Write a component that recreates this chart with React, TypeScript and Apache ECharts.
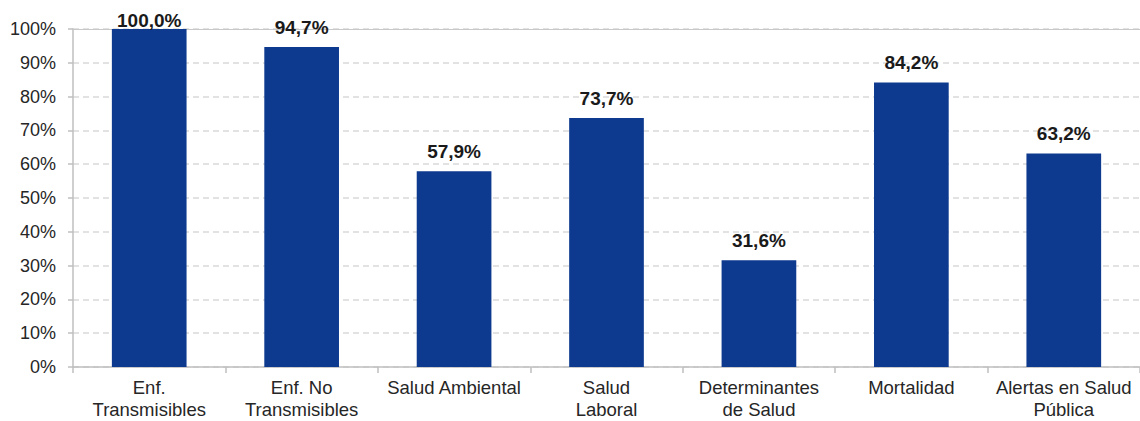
import React, { useEffect, useRef } from "react";
import * as echarts from "echarts";

const categories = [
  "Enf.\nTransmisibles",
  "Enf. No\nTransmisibles",
  "Salud Ambiental",
  "Salud\nLaboral",
  "Determinantes\nde Salud",
  "Mortalidad",
  "Alertas en Salud\nPública",
];
const values = [100.0, 94.7, 57.9, 73.7, 31.6, 84.2, 63.2];
const yTicks = [0, 10, 20, 30, 40, 50, 60, 70, 80, 90, 100];

const FONT = "'Liberation Sans', Arial, sans-serif";

export default function App() {
  const ref = useRef<HTMLDivElement>(null);
  useEffect(() => {
    if (!ref.current) return;
    const chart = echarts.init(ref.current, undefined, { renderer: "svg" });
    const yMax = yTicks[yTicks.length - 1];
    chart.setOption({
      animation: false,
      grid: {
        left: 73,
        right: 0,
        top: 29,
        bottom: 54,
        containLabel: false,
        outerBoundsMode: "none",
      },
      xAxis: [
        {
          type: "category",
          data: categories,
          axisLine: { show: true, lineStyle: { color: "#bfbfbf", width: 1.5 } },
          axisTick: { show: true, alignWithLabel: false, length: 6, lineStyle: { color: "#bfbfbf", width: 1.5 } },
          axisLabel: {
            color: "#262626",
            fontFamily: FONT,
            fontSize: 18.5,
            lineHeight: 21.5,
            margin: 10,
            interval: 0,
          },
        },
        {
          type: "category",
          data: categories,
          position: "top",
          axisLine: { show: true, lineStyle: { color: "#c8c8c8", width: 1 } },
          axisTick: { show: false },
          axisLabel: { show: false },
        },
      ],
      yAxis: {
        type: "value",
        min: yTicks[0],
        max: yMax,
        interval: 10,
        axisLine: { show: true, lineStyle: { color: "#bfbfbf", width: 1.5 } },
        axisTick: { show: true, length: 5, lineStyle: { color: "#bfbfbf", width: 1.5 } },
        axisLabel: {
          color: "#262626",
          fontFamily: FONT,
          fontSize: 18,
          margin: 17,
          formatter: (v: number) => `${v}%`,
        },
        splitLine: { show: true, lineStyle: { color: "#d9d9d9", type: [6, 4], width: 1.5 } },
      },
      series: [
        {
          type: "bar",
          data: values.map((v) => (v >= yMax ? { value: v, label: { distance: -1 } } : v)),
          barWidth: "49%",
          itemStyle: { color: "#0d3a8f" },
          label: {
            show: true,
            position: "top",
            distance: 10,
            color: "#1a1a1a",
            fontFamily: FONT,
            fontWeight: "bold",
            fontSize: 19,
            formatter: (p: any) => `${p.value.toFixed(1).replace(".", ",")}%`,
          },
        },
      ],
    });
    return () => chart.dispose();
  }, []);
  return (
    <div
      ref={ref}
      style={{ position: "fixed", left: 0, top: 0, width: 1140, height: 421, background: "#fff" }}
    />
  );
}
